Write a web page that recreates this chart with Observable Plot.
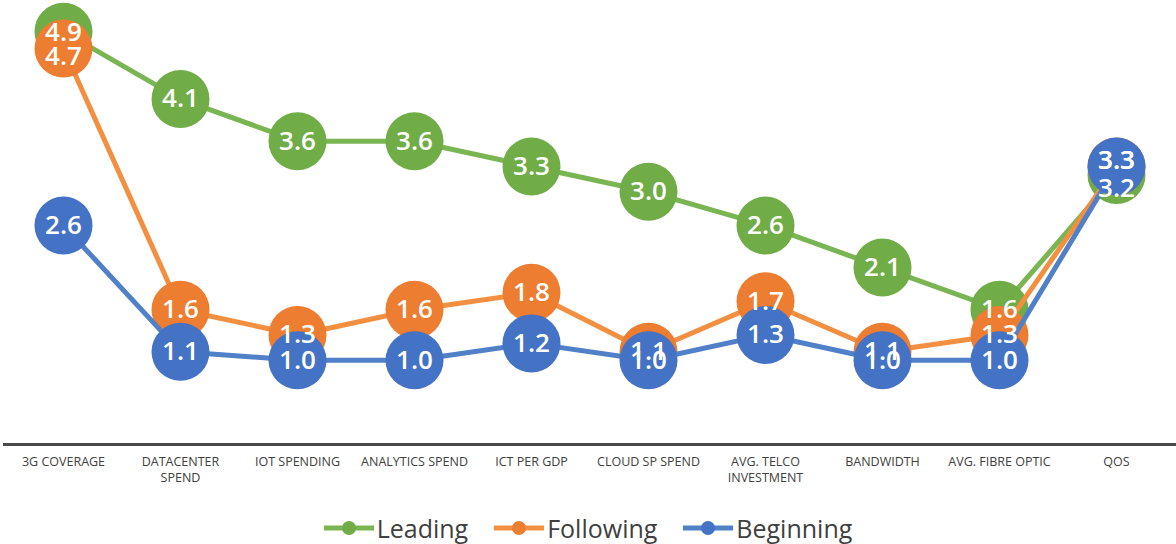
<!DOCTYPE html>
<html>
<head>
<meta charset="utf-8">
<script src="https://cdn.jsdelivr.net/npm/d3@7"></script>
<script src="https://cdn.jsdelivr.net/npm/@observablehq/plot@0.6"></script>
<style>
  html, body { margin: 0; padding: 0; background: #fff; }
  body { width: 1176px; height: 544px; overflow: hidden; font-family: "Open Sans", "Noto Sans", sans-serif; }
  #legend { display: flex; justify-content: center; align-items: center; gap: 26px; height: 44px; margin-top: 6px; }
  .item { display: flex; align-items: center; gap: 3px; font-size: 25px; color: #404040; }
</style>
</head>
<body>
<div id="chart"></div>
<div id="legend"></div>
<script>
const categories = ["3G COVERAGE", "DATACENTER\nSPEND", "IOT SPENDING", "ANALYTICS SPEND", "ICT PER GDP",
  "CLOUD SP SPEND", "AVG. TELCO\nINVESTMENT", "BANDWIDTH", "AVG. FIBRE OPTIC", "QOS"];
const seriesNames = ["Leading", "Following", "Beginning"];
const leading   = [4.9, 4.1, 3.6, 3.6, 3.3, 3.0, 2.6, 2.1, 1.6, 3.2];
const following = [4.7, 1.6, 1.3, 1.6, 1.8, 1.1, 1.7, 1.1, 1.3, 3.3];
const beginning = [2.6, 1.1, 1.0, 1.0, 1.2, 1.0, 1.3, 1.0, 1.0, 3.3];
const markerColors = ["#70AD47", "#ED7D31", "#4472C4"];
const lineColors = ["#79B553", "#F38F40", "#4F80C8"];

const values = [leading, following, beginning];
const data = seriesNames.flatMap((s, si) =>
  categories.map((c, ci) => ({series: s, cat: c, value: values[si][ci]})));

const marks = [Plot.ruleY([0], {stroke: "#4a4a4a", strokeWidth: 3})];
seriesNames.forEach((s, si) => {
  const sub = data.filter(d => d.series === s);
  marks.push(Plot.line(sub, {x: "cat", y: "value", stroke: lineColors[si], strokeWidth: 5}));
  marks.push(Plot.dot(sub, {x: "cat", y: "value", r: 29, fill: markerColors[si], stroke: "none"}));
});
const fmt = d => d.value.toFixed(1);
const textOpts = {x: "cat", y: "value", text: fmt, fill: "white", fontSize: 26, fontWeight: 600,
  fontFamily: "'Open Sans', sans-serif"};
const first = categories[0], last = categories[categories.length - 1];
marks.push(Plot.text(data.filter(d => d.cat !== last && d.cat !== first), textOpts));
marks.push(Plot.text(data.filter(d => d.cat === first && d.series === "Leading"), {...textOpts, dy: 1}));
marks.push(Plot.text(data.filter(d => d.cat === first && d.series === "Following"), {...textOpts, dy: 8}));
marks.push(Plot.text(data.filter(d => d.cat === first && d.series === "Beginning"), textOpts));
marks.push(Plot.text(data.filter(d => d.cat === last && d.series === "Leading"), {...textOpts, dy: 14}));
marks.push(Plot.text(data.filter(d => d.cat === last && d.series !== "Leading"), {...textOpts, dy: -6}));
marks.push(Plot.axisX({tickSize: 0, tickPadding: 11, fontSize: 12.5, fill: "#404040", lineHeight: 1.22,
  fontFamily: "'Open Sans', sans-serif", label: null}));

const chart = Plot.plot({
  width: 1176,
  height: 500,
  marginTop: 0,
  marginBottom: 56,
  marginLeft: 3,
  marginRight: 0,
  x: {type: "point", domain: categories, padding: 0.5, axis: null},
  y: {domain: [0, 5.27], axis: null},
  style: {background: "white", overflow: "visible"},
  marks
});
document.getElementById("chart").appendChild(chart);

const legend = document.getElementById("legend");
seriesNames.forEach((s, si) => {
  const item = document.createElement("div");
  item.className = "item";
  item.innerHTML = `<svg width="50" height="16"><line x1="0" x2="50" y1="8" y2="8" stroke="${lineColors[si]}" stroke-width="5" stroke-linecap="round"/><circle cx="25" cy="8" r="7" fill="${markerColors[si]}"/></svg><span>${s}</span>`;
  legend.appendChild(item);
});
</script>
</body>
</html>
